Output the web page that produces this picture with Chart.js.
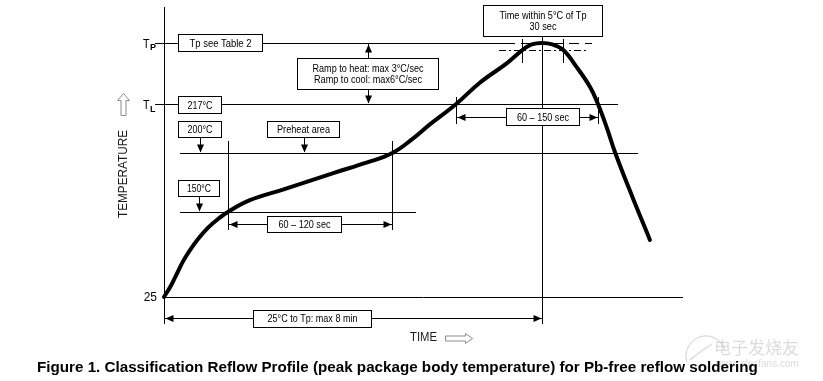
<!DOCTYPE html>
<html><head><meta charset="utf-8">
<style>html,body{margin:0;padding:0;background:#fff;overflow:hidden}canvas{display:block}</style>
<script src="https://cdn.jsdelivr.net/npm/chart.js@4.4.1/dist/chart.umd.min.js"></script>
</head><body>
<canvas id="c" width="823" height="381"></canvas>
<script>
// ---- data (time in seconds, temperature in °C; schematic profile) ----
const curveTime = [0,8,15,24,33,43,56,69,81,109,151,215,258,290,316,338,371,401,436,455,467,480,493,507,524,541,551,562,573,594,617];
const curveTemp = [25,40,56,77,94,110,127,140,150,160,169,183,192,200,205,210,217,232,246,255,259,260,259,255,243,229,217,209,200,164,109];
const levelTemps  = [25, 150, 200, 217, 260];          // ambient, Tsmin, Tsmax, TL, Tp
const levelNames  = ['25', '150°C', '200°C', '217°C', 'Tp see Table 2'];
const keyTimes    = [81, 290, 371, 551, 480, 455, 507]; // soak start/end, TL start/end, peak, ±5°C window
const spanLabels  = ['60 – 120 sec', '60 – 150 sec', '25°C to Tp: max 8 min', 'Time within 5°C of Tp', '30 sec'];
const rampLabels  = ['Ramp to heat: max 3°C/sec', 'Ramp to cool: max6°C/sec'];

// ---- schematic (broken) temperature axis: layout of the levels ----
const axisLevels = [25, 150, 200, 217, 260, 275];
const axisFracs  = [0, 0.2931, 0.4966, 0.6655, 0.8759, 1];

class BrokenScale extends Chart.LinearScale {
  getPixelForValue(v) {
    const L = axisLevels, F = axisFracs;
    let i = 0;
    if (v >= L[L.length - 1]) i = L.length - 2;
    else if (v > L[0]) { while (v > L[i + 1]) i++; }
    const f = F[i] + (v - L[i]) * (F[i + 1] - F[i]) / (L[i + 1] - L[i]);
    return this.bottom - f * (this.bottom - this.top);
  }
  getValueForPixel(p) {
    const L = axisLevels, F = axisFracs;
    const f = (this.bottom - p) / (this.bottom - this.top);
    let i = 0;
    if (f >= F[F.length - 1]) i = F.length - 2;
    else if (f > F[0]) { while (f > F[i + 1]) i++; }
    return L[i] + (f - F[i]) * (L[i + 1] - L[i]) / (F[i + 1] - F[i]);
  }
}
BrokenScale.id = 'broken';
BrokenScale.defaults = Chart.LinearScale.defaults;
Chart.register(BrokenScale);

const FF = "'Liberation Sans', Arial, Helvetica, sans-serif";

function hl(ctx, x1, x2, y, dash) {
  ctx.setLineDash(dash || []);
  const yy = Math.round(y) + 0.5;
  ctx.beginPath(); ctx.moveTo(Math.round(x1), yy); ctx.lineTo(Math.round(x2), yy); ctx.stroke();
  ctx.setLineDash([]);
}
function vl(ctx, x, y1, y2) {
  const xx = Math.round(x) + 0.5;
  ctx.beginPath(); ctx.moveTo(xx, Math.round(y1)); ctx.lineTo(xx, Math.round(y2)); ctx.stroke();
}
function head(ctx, x, y, dir) {
  const L = 8, W = 3.5;
  x = Math.round(x) + 0.5; y = Math.round(y) + 0.5;
  ctx.beginPath();
  if (dir === 'l') { ctx.moveTo(x, y); ctx.lineTo(x + L, y - W); ctx.lineTo(x + L, y + W); }
  if (dir === 'r') { ctx.moveTo(x, y); ctx.lineTo(x - L, y - W); ctx.lineTo(x - L, y + W); }
  if (dir === 'u') { ctx.moveTo(x, y); ctx.lineTo(x - W, y + L); ctx.lineTo(x + W, y + L); }
  if (dir === 'd') { ctx.moveTo(x, y); ctx.lineTo(x - W, y - L); ctx.lineTo(x + W, y - L); }
  ctx.closePath(); ctx.fill();
}
function box(ctx, x1, x2, yc, h, lines, widths, size) {
  const l = Math.round(x1) + 0.5, r = Math.round(x2) + 0.5, t = Math.round(yc - h / 2) + 0.5, b = t + h;
  ctx.fillStyle = '#fff'; ctx.fillRect(l, t, r - l, h);
  ctx.strokeStyle = '#000'; ctx.lineWidth = 1; ctx.strokeRect(l, t, r - l, h);
  ctx.fillStyle = '#000'; ctx.font = size + 'px ' + FF; ctx.textAlign = 'center'; ctx.textBaseline = 'middle';
  const cx = (l + r) / 2, n = lines.length;
  lines.forEach((s, i) => ctx.fillText(s, cx, (t + b) / 2 + (i - (n - 1) / 2) * 11 + 0.5, widths[i]));
  return { t, b, cx };
}
function dimArrow(ctx, x1, x2, y) {
  hl(ctx, x1, x2, y); head(ctx, x1 + 1, y, 'l'); head(ctx, x2 - 1, y, 'r');
}

const annot = {
  id: 'annot',
  beforeDatasetsDraw(chart) {
    const ctx = chart.ctx, X = v => chart.scales.x.getPixelForValue(v), Y = v => chart.scales.y.getPixelForValue(v);
    const bot = chart.chartArea.bottom;
    const [T25, T150, T200, TL, TP] = levelTemps;
    const [tS1, tS2, tL1, tL2, tPk, tW1, tW2] = keyTimes;
    ctx.save();
    ctx.strokeStyle = '#000'; ctx.lineWidth = 1;
    vl(ctx, X(0), Y(275), bot + 27);
    hl(ctx, X(0), X(659), Y(T25));
    hl(ctx, X(0) - 9, X(433), Y(TP));
    hl(ctx, X(433), X(543), Y(TP), [10, 6]);
    hl(ctx, X(425), X(538), Y(TP - 5), [7, 3, 2, 3]);
    hl(ctx, X(0) - 9, X(577), Y(TL));
    hl(ctx, X(20), X(602), Y(T200));
    hl(ctx, X(20), X(320), Y(T150));
    vl(ctx, X(tS1), Y(204), Y(124));
    vl(ctx, X(tS2), Y(204), Y(124));
    vl(ctx, X(tL1), Y(222), Y(210));
    vl(ctx, X(tL2), Y(222), Y(210));
    vl(ctx, X(tPk), Y(263), bot + 27);
    vl(ctx, X(tW1), Y(261.5), Y(246));
    vl(ctx, X(tW2), Y(261.5), Y(246));
    ctx.restore();
  },
  afterDatasetsDraw(chart) {
    const ctx = chart.ctx, X = v => chart.scales.x.getPixelForValue(v), Y = v => chart.scales.y.getPixelForValue(v);
    const bot = chart.chartArea.bottom;
    const [T25, T150, T200, TL, TP] = levelTemps;
    const [tS1, tS2, tL1, tL2, tPk] = keyTimes;
    ctx.save();
    ctx.strokeStyle = '#000'; ctx.fillStyle = '#000'; ctx.lineWidth = 1;

    dimArrow(ctx, X(tS1), X(tS2), Y(132.4));
    dimArrow(ctx, X(tL1), X(tL2), Y(212.5));
    dimArrow(ctx, X(0), X(tPk), bot + 21);

    box(ctx, X(18), X(124), Y(TP), 17, [levelNames[4]], [62], 11);
    const rb = box(ctx, X(169), X(348), Y(238.5), 31, rampLabels, [111, 108], 11);
    ctx.strokeStyle = '#000'; ctx.fillStyle = '#000';
    vl(ctx, rb.cx, rb.t, Y(TP) + 1); head(ctx, rb.cx, Y(TP) + 1, 'u');
    vl(ctx, rb.cx, rb.b, Y(TL) - 1); head(ctx, rb.cx, Y(TL) - 1, 'd');
    box(ctx, X(18), X(72), Y(TL), 17, [levelNames[3]], [25], 11);
    const b200 = box(ctx, X(18), X(72), Y(208.3), 16, [levelNames[2]], [25], 11);
    vl(ctx, b200.cx, b200.b, Y(T200) - 1); head(ctx, b200.cx, Y(T200) - 1, 'd');
    const bph = box(ctx, X(131), X(222), Y(208.3), 16, ['Preheat area'], [53], 11);
    vl(ctx, bph.cx, bph.b, Y(T200) - 1); head(ctx, bph.cx, Y(T200) - 1, 'd');
    const b150 = box(ctx, X(18), X(70), Y(170.3), 16, [levelNames[1]], [24], 11);
    vl(ctx, b150.cx, b150.b, Y(T150) - 1); head(ctx, b150.cx, Y(T150) - 1, 'd');
    box(ctx, X(131), X(225), Y(132.4), 16, [spanLabels[0]], [52], 11);
    box(ctx, X(434), X(527), Y(212.5), 17, [spanLabels[1]], [52], 11);
    box(ctx, X(405), X(556), Y(269.4), 31, [spanLabels[3], spanLabels[4]], [87, 27], 11);
    box(ctx, X(113), X(263), bot + 21, 17, [spanLabels[2]], [90], 10);

    ctx.fillStyle = '#000'; ctx.textAlign = 'left'; ctx.textBaseline = 'alphabetic';
    [[TP, 'P'], [TL, 'L']].forEach(([v, s]) => {
      const y = Y(v);
      ctx.font = '13px ' + FF; ctx.fillText('T', X(0) - 21, y + 5, 6.5);
      ctx.font = 'bold 9px ' + FF; ctx.fillText(s, X(0) - 14, y + 7.5, 6);
    });
    ctx.font = '12px ' + FF; ctx.textAlign = 'right'; ctx.textBaseline = 'middle';
    ctx.fillText(levelNames[0], X(0) - 7, Y(T25) + 0.5, 14);

    ctx.fillStyle = '#1a1a1a';
    ctx.save(); ctx.translate(X(0) - 41, 174); ctx.rotate(-Math.PI / 2);
    ctx.font = '13px ' + FF; ctx.textAlign = 'center'; ctx.textBaseline = 'middle';
    ctx.fillText('TEMPERATURE', 0, 0, 88); ctx.restore();
    ctx.font = '12px ' + FF; ctx.textAlign = 'left'; ctx.textBaseline = 'middle';
    ctx.fillText('TIME', 410, bot + 41, 27);

    ctx.strokeStyle = '#8c8c8c'; ctx.lineWidth = 1;
    const ux = X(0) - 40.5, uy = 93.5;
    ctx.beginPath();
    ctx.moveTo(ux, uy); ctx.lineTo(ux + 6, uy + 7); ctx.lineTo(ux + 2.5, uy + 7); ctx.lineTo(ux + 2.5, uy + 22);
    ctx.lineTo(ux - 2.5, uy + 22); ctx.lineTo(ux - 2.5, uy + 7); ctx.lineTo(ux - 6, uy + 7); ctx.closePath(); ctx.stroke();
    const rx = 472.5, ry = bot + 41.5;
    ctx.beginPath();
    ctx.moveTo(rx, ry); ctx.lineTo(rx - 7, ry - 5); ctx.lineTo(rx - 7, ry - 2.5); ctx.lineTo(rx - 27, ry - 2.5);
    ctx.lineTo(rx - 27, ry + 2.5); ctx.lineTo(rx - 7, ry + 2.5); ctx.lineTo(rx - 7, ry + 5); ctx.closePath(); ctx.stroke();

    ctx.strokeStyle = 'rgba(190,190,190,0.6)'; ctx.lineWidth = 1.2;
    ctx.beginPath(); ctx.arc(706, 356, 20, Math.PI * 0.9, Math.PI * 1.9); ctx.stroke();
    ctx.beginPath(); ctx.moveTo(690, 360); ctx.lineTo(700, 352); ctx.lineTo(712, 344); ctx.stroke();
    ctx.fillStyle = 'rgba(190,190,190,0.55)'; ctx.font = '17px "Noto Sans CJK SC", sans-serif';
    ctx.textAlign = 'left'; ctx.textBaseline = 'middle';
    ctx.fillText('电子发烧友', 714, 348, 92);
    ctx.font = '10px ' + FF; ctx.fillText('www.elecfans.com', 716, 364, 94);

    ctx.fillStyle = '#000'; ctx.font = 'bold 15.2px ' + FF; ctx.textAlign = 'left'; ctx.textBaseline = 'middle';
    ctx.fillText('Figure 1. Classification Reflow Profile (peak package body temperature) for Pb-free reflow soldering', 37, 367.5, 723);
    ctx.restore();
  }
};

new Chart(document.getElementById('c'), {
  type: 'line',
  data: {
    datasets: [{
      data: curveTime.map((t, i) => ({ x: t, y: curveTemp[i] })),
      borderColor: '#000', borderWidth: 4, pointRadius: 0, fill: false,
      tension: 0.4, clip: false,
      borderCapStyle: 'round', borderJoinStyle: 'round'
    }]
  },
  options: {
    responsive: false, animation: false, devicePixelRatio: 1, events: [],
    layout: { padding: { left: 164, right: 140, top: 7, bottom: 84 } },
    scales: {
      x: { type: 'linear', min: 0, max: 659, display: false },
      y: { type: 'broken', min: 25, max: 275, display: false }
    },
    plugins: { legend: { display: false }, tooltip: { enabled: false }, title: { display: false } }
  },
  plugins: [annot]
});
</script>
</body></html>
